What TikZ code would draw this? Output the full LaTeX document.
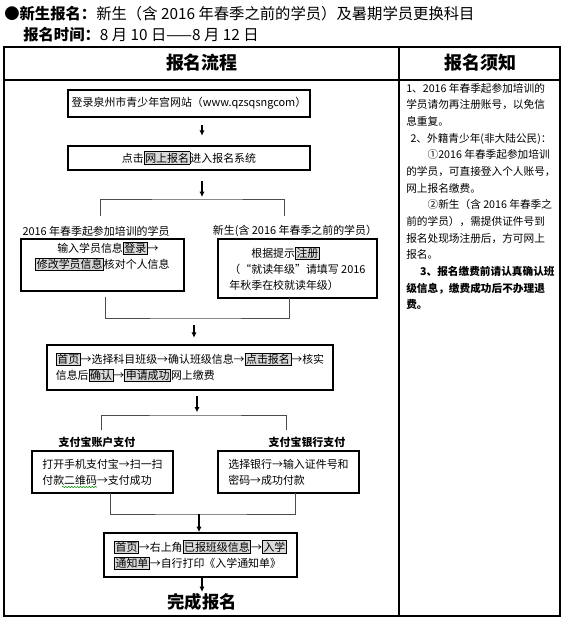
\documentclass[tikz,border=0pt]{standalone}
\usepackage{fontspec}
\setmainfont{Noto Sans CJK SC}
\usetikzlibrary{arrows.meta,decorations.pathmorphing}

% grey framed words inside the flow text
\newcommand{\hlbox}[1]{{\setlength{\fboxsep}{0.6pt}\setlength{\fboxrule}{0.5pt}\fcolorbox{black}{black!15}{#1}}}
\newcommand{\flowsize}{\fontsize{8.2}{12}\selectfont}
\newcommand{\notesize}{\fontsize{8}{12.5}\selectfont}

\tikzset{
  tbl/.style={line width=1.1pt},
  flowbox/.style={draw, line width=1pt, inner sep=0pt, align=left, font=\flowsize},
  bigbox/.style={flowbox, line width=1.4pt},
  arr/.style={-{Latex[length=4pt,width=4pt]}, line width=1pt},
  brk/.style={draw=black!70, line width=0.7pt},
  lbl/.style={font=\flowsize, inner sep=1pt},
}

\begin{document}
\begin{tikzpicture}[x=0.75pt, y=-0.75pt]
  \useasboundingbox (0,0) rectangle (576,626);
  % heading above the table
  \node[anchor=west, inner sep=0pt, font=\fontsize{11.5}{14}\selectfont] (ttl1) at (4,14)
    {●\textbf{新生报名：}新生（含 2016 年春季之前的学员）及暑期学员更换科目};
  \node[anchor=west, inner sep=0pt, font=\fontsize{11.5}{14}\selectfont] (ttl2) at (23,35)
    {\textbf{报名时间：}8 月 10 日——8 月 12 日};
  % table frame
  \draw[tbl] (4,47) rectangle (560,616);
  \draw[tbl] (4,80) -- (560,80);
  \draw[tbl] (399,47) -- (399,616);
  \node[font=\fontsize{13.5}{16}\selectfont\bfseries] (hdflow) at (202,63) {报名流程};
  \node[font=\fontsize{13.5}{16}\selectfont\bfseries] (hdnote) at (480,63) {报名须知};

  % left column: the flow
  \node[bigbox, minimum width=181.5pt, minimum height=20.25pt] (web) at (189,103.5)
    {登录泉州市青少年宫网站（www.qzsqsngcom）};
  \node[bigbox, minimum width=181.5pt, minimum height=18pt] (enter) at (189,158)
    {点击\hlbox{网上报名}进入报名系统};
  \coordinate (jaT) at (202,199);
  \coordinate (jaL) at (100,216);
  \coordinate (jaR) at (284,216);
  \draw[arr, shorten <=5pt, shorten >=7pt] (web.south -| jaT) -- (enter.north -| jaT);
  \draw[arr, shorten <=7.5pt, shorten >=1.5pt] (enter.south -| jaT) -- (jaT);
  \draw[brk] (jaL) |- (jaT) -| (jaR);

  \node[lbl] (oldlbl) at (96,231) {2016 年春季起参加培训的学员};
  \node[lbl] (newlbl) at (295,231) {新生(含 2016 年春季之前的学员）};
  \node[flowbox, minimum width=122.25pt, minimum height=39pt] (login) at (102.5,265)
    {\hspace*{2em}输入学员信息\hlbox{登录}→\\\hlbox{修改学员信息}核对个人信息\\[3pt]};
  \node[flowbox, minimum width=119.25pt, minimum height=44.25pt] (reg) at (297.5,268.5)
    {\hspace*{2em}根据提示\hlbox{注册}\\（“就读年级”请填写 2016\\年秋季在校就读年级）};

  \coordinate (jbL) at (105,297);
  \coordinate (jbR) at (289,298);
  \coordinate (jbB) at (194,318);
  \draw[brk] (jbL) |- (jbB) -| (jbR);
  \node[flowbox, minimum width=214.5pt, minimum height=33.75pt] (apply) at (190,367.5)
    {\hlbox{首页}→选择科目班级→确认班级信息→\hlbox{点击报名}→核实\\信息后\hlbox{确认}→\hlbox{申请成功}网上缴费};
  \draw[arr, shorten <=5pt, shorten >=5pt] (jbB) -- (apply.north -| jbB);

  \coordinate (jcT) at (197,415);
  \coordinate (jcL) at (101,430);
  \coordinate (jcR) at (286,430);
  \draw[arr, shorten <=3.75pt, shorten >=2pt] (apply.south -| jcT) -- (jcT);
  \draw[brk] (jcL) |- (jcT) -| (jcR);

  \node[lbl, font=\flowsize\bfseries] (paylbl1) at (97,442) {支付宝账户支付};
  \node[lbl, font=\flowsize\bfseries] (paylbl2) at (307,442) {支付宝银行支付};
  \node[flowbox, minimum width=105.75pt, minimum height=31.5pt] (payacc) at (102.5,472)
    {打开手机支付宝→扫一扫\\付款二维码→支付成功};
  \node[flowbox, minimum width=105.75pt, minimum height=31.5pt] (paybank) at (288.5,472)
    {选择银行→输入证件号和\\密码→成功付款};
  \draw[green!55!black, line width=0.4pt, decorate, decoration={snake, amplitude=0.5pt, segment length=2.2pt}]
    (62,487) -- (97,487);

  \coordinate (jdL) at (110,493);
  \coordinate (jdR) at (295,493);
  \coordinate (jdB) at (199,514);
  \draw[brk] (jdL) |- (jdB) -| (jdR);
  \node[bigbox, minimum width=144.75pt, minimum height=33pt] (notice) at (200.5,555)
    {\hlbox{首页}→右上角\hlbox{已报班级信息}→\hlbox{入学}\\\hlbox{通知单}→自行打印《入学通知单》};
  \draw[arr] (jdB) -- (notice.north -| jdB);

  \node[font=\fontsize{13}{15}\selectfont\bfseries, inner sep=1pt] (done) at (202,602) {完成报名};
  \draw[arr] (notice.south -| done.north) -- (done.north);

  % right column: notes
  \node[anchor=north west, inner sep=0pt, align=left, font=\notesize] (notes) at (406,83)
    {1、2016 年春季起参加培训的\\
     学员请勿再注册账号，以免信\\
     息重复。\\
     \hspace*{0.4em}2、外籍青少年(非大陆公民)：\\
     \hspace*{2em}①2016 年春季起参加培训\\
     的学员，可直接登入个人账号，\\
     网上报名缴费。\\
     \hspace*{2em}②新生（含 2016 年春季之\\
     前的学员），需提供证件号到\\
     报名处现场注册后，方可网上\\
     报名。\\
     \hspace*{1.3em}\textbf{3、报名缴费前请认真确认班}\\
     \textbf{级信息，缴费成功后不办理退}\\
     \textbf{费。}};
\end{tikzpicture}
\end{document}
